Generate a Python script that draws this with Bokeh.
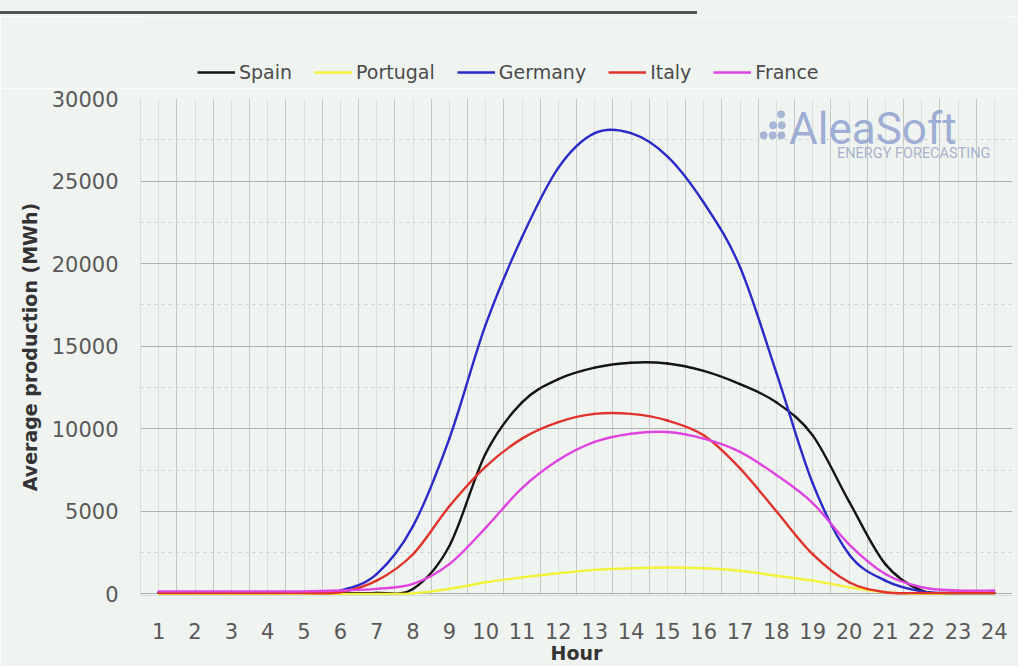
from bokeh.plotting import figure
from bokeh.models import FixedTicker, Legend, LegendItem, Label, Div
from bokeh.layouts import column
from bokeh.embed import file_html
from bokeh.resources import INLINE

# ---------------- data ----------------
hours = list(range(1, 25))
spain = [50, 50, 50, 50, 50, 50, 50, 300, 2900, 8500, 11600, 13000, 13700, 14000,
         13950, 13500, 12700, 11600, 9600, 5600, 1800, 200, 50, 50]
portugal = [0, 0, 0, 0, 0, 0, 0, 30, 300, 700, 1000, 1250, 1450, 1550,
            1600, 1550, 1400, 1100, 800, 400, 100, 0, 0, 0]
germany = [100, 100, 100, 100, 100, 200, 1200, 4100, 9400, 16300, 21600, 25800, 27900, 27900,
           26500, 23700, 19800, 13400, 6700, 2400, 800, 150, 50, 50]
italy = [50, 50, 50, 50, 50, 100, 800, 2400, 5300, 7700, 9400, 10400, 10900, 10900,
         10500, 9600, 7600, 5000, 2400, 700, 100, 50, 50, 50]
france = [150, 150, 150, 150, 150, 200, 300, 600, 1800, 4000, 6400, 8100, 9200, 9700,
          9800, 9400, 8600, 7200, 5500, 3000, 1200, 400, 200, 200]

series_names = ["Spain", "Portugal", "Germany", "Italy", "France"]
series_values = [spain, portugal, germany, italy, france]
series_colors = ["#141414", "#f2f23a", "#2a2ac8", "#e0332e", "#e044e0"]

y_ticks = [0, 5000, 10000, 15000, 20000, 25000, 30000]
y_minor = [2500, 7500, 12500, 17500, 22500, 27500]

BG = "#f0f4f1"
LINE_W = 2.4


def smooth_segments(xs, ys):
    """Catmull-Rom style bezier control points (like spreadsheet 'smoothed line')."""
    n = len(xs)
    out = dict(x0=[], y0=[], x1=[], y1=[], cx0=[], cy0=[], cx1=[], cy1=[])
    for i in range(n - 1):
        a = i - 1 if i > 0 else i
        d = i + 2 if i + 2 < n else i + 1
        out["x0"].append(xs[i]); out["y0"].append(ys[i])
        out["x1"].append(xs[i + 1]); out["y1"].append(ys[i + 1])
        out["cx0"].append(xs[i] + (xs[i + 1] - xs[a]) / 6.0)
        out["cy0"].append(ys[i] + (ys[i + 1] - ys[a]) / 6.0)
        out["cx1"].append(xs[i + 1] - (xs[d] - xs[i]) / 6.0)
        out["cy1"].append(ys[i + 1] - (ys[d] - ys[i]) / 6.0)
    return out


# ---------------- main chart ----------------
p = figure(width=1018, height=578, x_range=(0.5, 24.5), y_range=(-100, 30000),
           output_backend="svg", toolbar_location=None,
           min_border_left=140, min_border_right=6, min_border_top=10, min_border_bottom=68,
           background_fill_color=BG, border_fill_color=BG, outline_line_color=None)

# grids
p.xgrid.ticker = FixedTicker(ticks=[h - 0.5 for h in hours] + [24.5], minor_ticks=hours)
p.xgrid.grid_line_color = "#c4c7c5"
p.xgrid.minor_grid_line_color = "#dcdfdc"
p.ygrid.ticker = FixedTicker(ticks=y_ticks, minor_ticks=y_minor)
p.ygrid.grid_line_color = "#aeb1af"
p.ygrid.minor_grid_line_color = "#cdd0cd"
p.ygrid.minor_grid_line_dash = "3 4"

# axes
for ax in (p.xaxis[0], p.yaxis[0]):
    ax.axis_line_color = "#d3dfe6"
    ax.major_tick_line_color = None
    ax.minor_tick_line_color = None
    ax.major_label_text_font = "DejaVu Sans"
    ax.major_label_text_font_size = "21px"
    ax.major_label_text_color = "#595959"
    ax.axis_label_text_font = "DejaVu Sans"
    ax.axis_label_text_font_style = "bold"
    ax.axis_label_text_font_size = "19px"
    ax.axis_label_text_color = "#333333"

p.xaxis.ticker = FixedTicker(ticks=hours)
p.xaxis.major_label_standoff = 21
p.xaxis.axis_label = "Hour"
p.xaxis.axis_label_standoff = 0
p.yaxis.ticker = FixedTicker(ticks=y_ticks)
p.yaxis.major_label_standoff = 16
p.yaxis.axis_label = "Average production (MWh)"
p.yaxis.axis_label_standoff = 8

# watermark logo
p.scatter(x=[17.65, 17.90, 18.14, 17.91, 18.15, 18.13],
          y=[27770, 27770, 27770, 28380, 28380, 29040],
          size=7, color="#a0afd3", alpha=0.9)
p.add_layout(Label(x=18.35, y=28130, text="AleaSoft", text_font="Roboto", text_font_size="44px",
                   text_baseline="alphabetic", text_color="#93a5d0", text_alpha=0.9))
p.add_layout(Label(x=19.67, y=26690, text="ENERGY FORECASTING", text_font="Roboto",
                   text_font_size="14.5px", text_baseline="alphabetic", text_color="#a7b3cc"))

# series
for name, vals, col in zip(series_names, series_values, series_colors):
    p.bezier(source=smooth_segments(hours, vals), x0="x0", y0="y0", x1="x1", y1="y1",
             cx0="cx0", cy0="cy0", cx1="cx1", cy1="cy1",
             line_color=col, line_width=LINE_W, line_cap="round")

# ---------------- legend strip (above the chart) ----------------
lg = figure(width=1018, height=72, x_range=(0.5, 24.5), y_range=(-100, 30000),
            output_backend="svg", toolbar_location=None,
            min_border_left=140, min_border_right=6, min_border_top=0, min_border_bottom=0,
            background_fill_color=BG, border_fill_color=BG, outline_line_color=None)
lg.axis.visible = False
lg.grid.visible = False
items = []
for name, vals, col in zip(series_names, series_values, series_colors):
    r = lg.line(x=hours, y=vals, line_color=col, line_width=LINE_W, visible=False)
    items.append(LegendItem(label=name, renderers=[r]))
legend = Legend(items=items, orientation="horizontal", location=(57, 5),
                padding=0, margin=0, spacing=22, glyph_width=38, glyph_height=20,
                label_height=20, label_standoff=4,
                label_text_font="DejaVu Sans", label_text_font_size="19px",
                label_text_color="#4a4a4a", background_fill_alpha=0,
                inactive_fill_alpha=0, border_line_color=None)
lg.add_layout(legend)

top_rule = Div(text='<div style="position:absolute;top:11px;left:0px;width:697px;height:3px;background:#4e5651"></div>',
               width=1018, height=16, margin=0, styles={"background": BG})

layout = column(top_rule, lg, p, spacing=0)

open("out.html", "w").write(file_html(layout, INLINE))
